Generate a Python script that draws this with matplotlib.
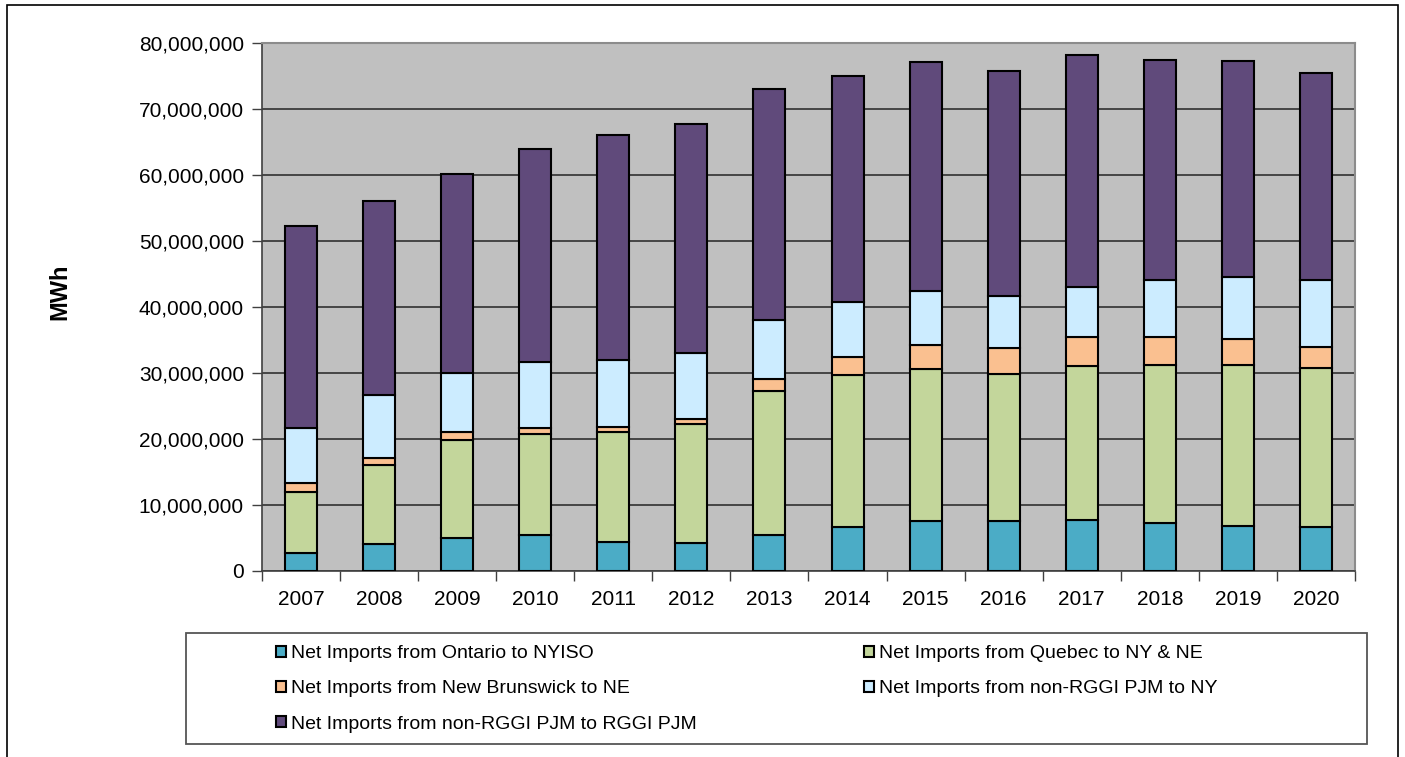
import matplotlib
matplotlib.use("Agg")
import matplotlib.pyplot as plt
from matplotlib.patches import Patch, Rectangle
from matplotlib.ticker import FuncFormatter, FixedLocator
import numpy as np

plt.rcParams['font.family'] = ['Liberation Sans', 'DejaVu Sans']

years = ["2007", "2008", "2009", "2010", "2011", "2012", "2013",
         "2014", "2015", "2016", "2017", "2018", "2019", "2020"]

# values in MWh
ontario = [2.7e6, 4.1e6, 5.0e6, 5.5e6, 4.4e6, 4.2e6, 5.5e6,
           6.7e6, 7.6e6, 7.6e6, 7.8e6, 7.2e6, 6.8e6, 6.7e6]
quebec = [9.3e6, 12.0e6, 14.8e6, 15.2e6, 16.6e6, 18.1e6, 21.8e6,
          23.0e6, 23.0e6, 22.2e6, 23.2e6, 24.0e6, 24.4e6, 24.0e6]
new_brunswick = [1.3e6, 1.0e6, 1.3e6, 1.0e6, 0.8e6, 0.8e6, 1.8e6,
                 2.7e6, 3.7e6, 4.0e6, 4.4e6, 4.3e6, 3.9e6, 3.3e6]
pjm_to_ny = [8.4e6, 9.6e6, 8.9e6, 10.0e6, 10.2e6, 10.0e6, 9.0e6,
             8.3e6, 8.1e6, 7.8e6, 7.7e6, 8.6e6, 9.5e6, 10.1e6]
pjm_to_rggi = [30.6e6, 29.3e6, 30.2e6, 32.2e6, 34.0e6, 34.7e6, 34.9e6,
               34.3e6, 34.7e6, 34.1e6, 35.1e6, 33.4e6, 32.7e6, 31.3e6]

series_labels = ["Net Imports from Ontario to NYISO",
                 "Net Imports from Quebec to NY & NE",
                 "Net Imports from New Brunswick to NE",
                 "Net Imports from non-RGGI PJM to NY",
                 "Net Imports from non-RGGI PJM to RGGI PJM"]
series_values = [ontario, quebec, new_brunswick, pjm_to_ny, pjm_to_rggi]
colors = ["#4BACC6", "#C3D69B", "#FAC090", "#CCECFF", "#604A7B"]

W, H = 1405, 757
fig = plt.figure(figsize=(W / 100, H / 100), dpi=100)
fig.patch.set_facecolor("white")

ax = fig.add_axes([262 / W, (H - 571) / H, (1355 - 262) / W, (571 - 43) / H])
ax.set_facecolor("#C0C0C0")

x = np.arange(len(years))
bottom = np.zeros(len(years))
for vals, col in zip(series_values, colors):
    vals = np.array(vals)
    ax.bar(x, vals, width=0.41, bottom=bottom, color=col,
           edgecolor="black", linewidth=1.5, zorder=3)
    bottom += vals

ax.set_xlim(-0.5, len(years) - 0.5)
ax.set_ylim(0, 80e6)
ax.set_yticks(np.arange(0, 80e6 + 1, 10e6))
ax.yaxis.set_major_formatter(FuncFormatter(lambda v, p: f"{int(v):,}"))
ax.yaxis.grid(True, color="#303030", linewidth=1.2, zorder=1)
ax.set_axisbelow(True)

ax.set_xticks(x)
ax.set_xticklabels(years)
ax.xaxis.set_minor_locator(FixedLocator(np.arange(-0.5, len(years), 1.0)))
ax.tick_params(axis="x", which="major", length=0, labelsize=15, pad=14)
ax.tick_params(axis="x", which="minor", length=7, width=1, color="#404040",
               direction="out")
ax.tick_params(axis="y", which="major", length=7, width=1, color="#404040",
               labelsize=15, pad=6)

for side in ["top", "right"]:
    ax.spines[side].set_color("#8C8C8C")
    ax.spines[side].set_linewidth(1.5)
ax.spines["left"].set_color("#404040")
ax.spines["bottom"].set_color("#404040")
ax.spines["left"].set_linewidth(1.2)
ax.spines["bottom"].set_linewidth(1.2)

fig.text(60 / W, 1 - 292 / H, "MWh", rotation=90, ha="center", va="center",
         fontsize=17, fontweight="bold")

# legend frame
fig.add_artist(Rectangle((186 / W, 1 - 744 / H), (1367 - 186) / W, (744 - 633) / H,
                         transform=fig.transFigure, fill=False,
                         edgecolor="#555555", linewidth=1.3))
# outer border
fig.add_artist(Rectangle((7 / W, -0.02), (1398 - 7) / W, 1.02 - 5 / H,
                         transform=fig.transFigure, fill=False,
                         edgecolor="black", linewidth=1.2))

order = [0, 2, 4, 1, 3]
handles = [Patch(facecolor=colors[i], edgecolor="black", linewidth=1.5) for i in order]
labels = [series_labels[i] for i in order]
fig.legend(handles, labels, loc="upper left",
           bbox_to_anchor=(276 / W, 1 - 645 / H), bbox_transform=fig.transFigure,
           ncol=2, frameon=False, fontsize=14, borderpad=0, borderaxespad=0,
           handlelength=0.5, handleheight=0.5, handletextpad=0.25,
           labelspacing=0.94, columnspacing=8.64)

fig.savefig("out.png", dpi=100)
